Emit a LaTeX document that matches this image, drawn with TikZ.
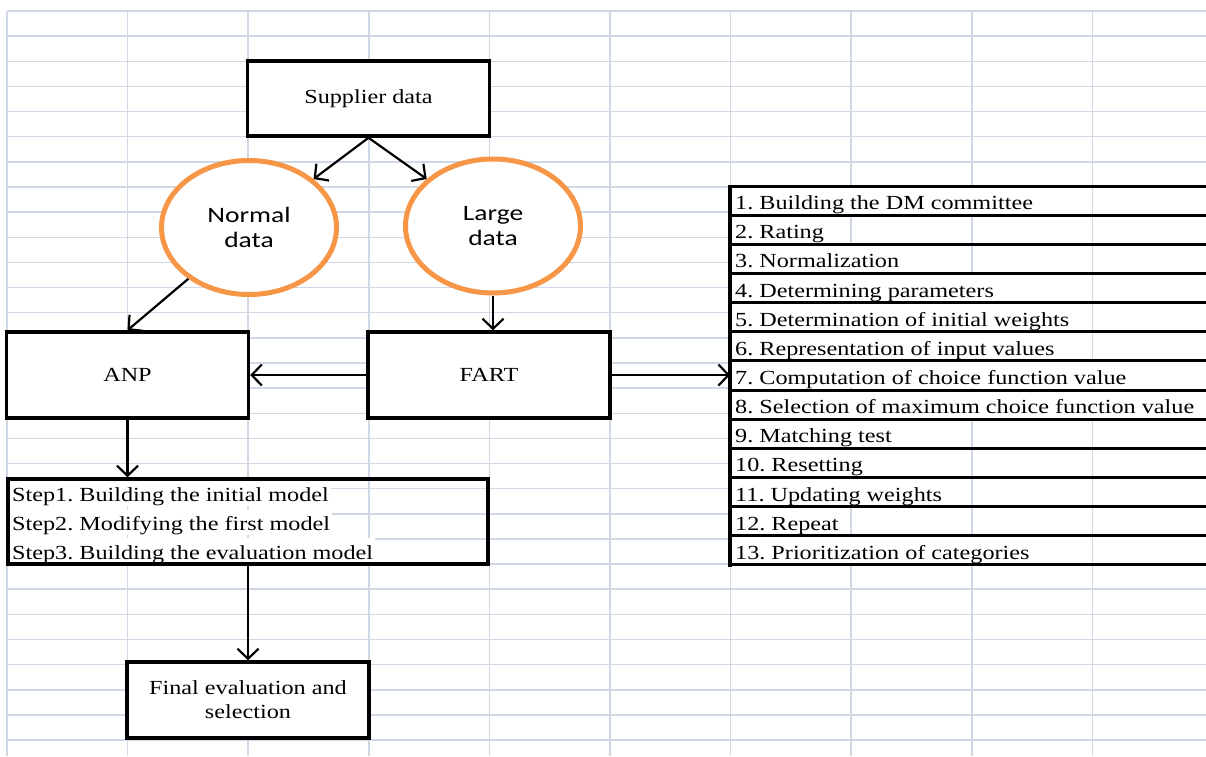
\documentclass[tikz,border=0pt]{standalone}
\usepackage{fontspec}
\setmainfont[FakeStretch=1.21]{Liberation Serif}
\newfontfamily\ovalfont[FakeStretch=1.25]{Carlito}
\usetikzlibrary{shapes.geometric, arrows.meta, positioning}
\definecolor{gridblue}{HTML}{D0D7E5}
\definecolor{ovalorange}{HTML}{F79646}
\frenchspacing

\begin{document}
\begin{tikzpicture}[x=1pt, y=-1pt,
	box/.style={draw, line width=3.5pt, fill=white, minimum width=242pt, inner sep=0pt, align=center, font=\fontsize{20}{24}\selectfont},
	oval/.style={ellipse, draw=ovalorange, line width=5pt, fill=white, minimum width=175pt, minimum height=134pt, inner sep=0pt, align=center, font=\ovalfont\fontsize{22}{25}\selectfont},
	row/.style={anchor=west, fill=white, inner xsep=2pt, inner ysep=2pt, text height=20pt, text depth=2pt, font=\fontsize{20}{24}\selectfont},
	gridline/.style={gridblue, line width=1.5pt},
	arr/.style={line width=2.2pt, -{Straight Barb[length=10pt, width=21pt]}}
	]
	\fill[white] (0,0) rectangle (1206,756);
	\useasboundingbox (0,0) rectangle (1206,756);
	% sheet grid
	\foreach \k in {0,...,29}
		\draw[gridline] (7,{11+25.14*\k}) -- (1206,{11+25.14*\k});
	\foreach \j in {0,...,9}
		\draw[gridline] ({7+120.6*\j},11) -- ({7+120.6*\j},756);

	\node[box, minimum height=75pt] (supplier) at (368.5,98.5) {Supplier data};
	\node[oval] (normal) at (249,227.5) {Normal\\data};
	\node[oval] (large) at (493,226) {Large\\data};
	\node[box, minimum height=86pt] (anp) at (127.5,375) {ANP};
	\node[box, minimum height=86pt] (fart) at (489,375) {FART};

	% ANP steps
	\node[row] (step1) at (10,492.5) {Step1. Building the initial model};
	\node[row] (step2) at (10,521.5) {Step2. Modifying the first model};
	\node[row] (step3) at (10,550.5) {Step3. Building the evaluation model};
	\node[draw, line width=3.5pt, minimum width=480pt, minimum height=85pt] (steps) at (248,521.5) {};

	\node[box, minimum height=76pt] (final) at (248,700) {Final evaluation and\\selection};

	% FART steps
	\fill[white] (730,186) rectangle (1206,565);
	\foreach \x in {851.2,971.8,1092.4}
		\draw[gridline] (\x,186) -- (\x,565);
	\foreach \t [count=\n] in {1. Building the DM committee, 2. Rating, 3. Normalization,
		4. Determining parameters, 5. Determination of initial weights,
		6. Representation of input values, 7. Computation of choice function value,
		8. Selection of maximum choice function value, 9. Matching test,
		10. Resetting, 11. Updating weights, 12. Repeat, 13. Prioritization of categories}
		\node[row] (r\n) at (733,{186+29.15*(\n-0.5)}) {\t};
	\foreach \n in {0,...,13}
		\draw[line width=3pt] (730,{186+29.15*\n}) -- (1206,{186+29.15*\n});
	\draw[line width=3.5pt] (730,184.5) -- (730,566.5);
	\coordinate (tabin) at (730,375.5);

	\draw[arr] (supplier.south) -- (normal);
	\draw[arr] (supplier.south) -- (large);
	\draw[arr] (normal) -- (anp.north);
	\draw[arr] (large.south) -- (large.south |- fart.north);
	\draw[arr] (fart.west) -- (anp.east);
	\draw[arr] (fart.east) -- (fart.east -| tabin);
	\draw[arr] (anp.south) -- (anp.south |- steps.north);
	\draw[arr] (steps.south) -- (final.north);
\end{tikzpicture}
\end{document}
